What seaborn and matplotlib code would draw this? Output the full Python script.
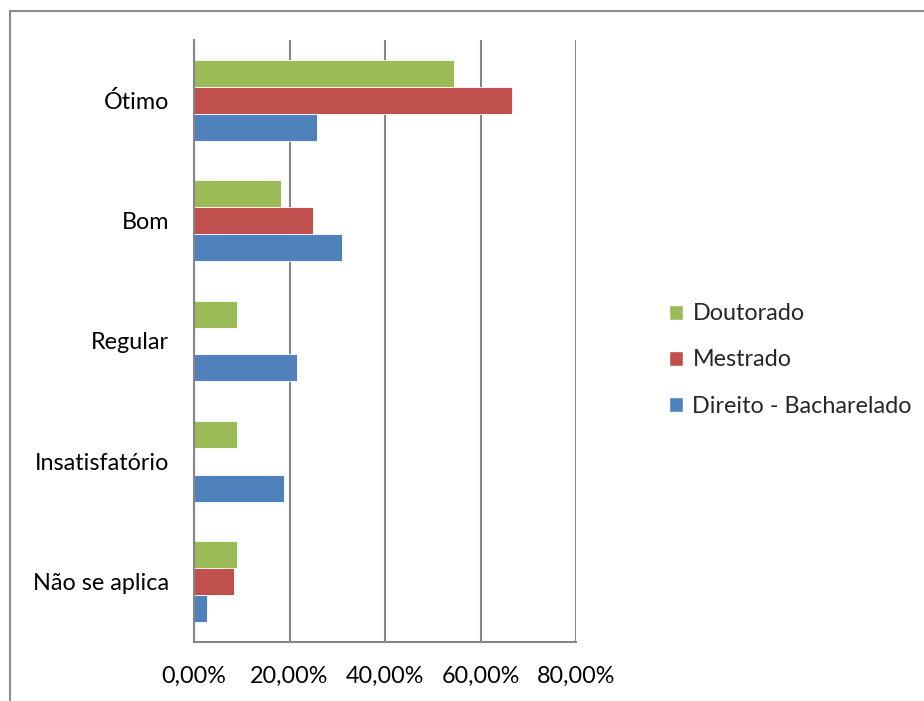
import matplotlib
matplotlib.use("Agg")
import matplotlib.pyplot as plt
import matplotlib.patches as mpatches
from matplotlib.lines import Line2D
from matplotlib.ticker import FuncFormatter
import seaborn as sns
import pandas as pd

categories = ["Ótimo", "Bom", "Regular", "Insatisfatório", "Não se aplica"]
series_names = ["Doutorado", "Mestrado", "Direito - Bacharelado"]
doutorado = [54.55, 18.18, 9.09, 9.09, 9.09]
mestrado = [66.67, 25.00, 0.0, 0.0, 8.33]
direito = [25.68, 31.08, 21.62, 18.92, 2.70]
colors = ["#9BBB59", "#C0504D", "#4F81BD"]
x_ticks = [0, 20, 40, 60, 80]

rows = []
for name, vals in zip(series_names, [doutorado, mestrado, direito]):
    for c, v in zip(categories, vals):
        rows.append({"cat": c, "serie": name, "val": v})
df = pd.DataFrame(rows)

sns.set_style("white")
plt.rcParams["font.family"] = ["Lato", "DejaVu Sans"]
FS = 16.8

fig = plt.figure(figsize=(9.24, 7.01), dpi=100)
ax = fig.add_axes([194 / 924, 1 - 642 / 701, (576 - 194) / 924, (642 - 40) / 701])

sns.barplot(data=df, y="cat", x="val", hue="serie", order=categories,
            hue_order=series_names, palette=colors, orient="h",
            width=0.67, gap=0, saturation=1, ax=ax, legend=False,
            edgecolor="white", linewidth=0.6)

ax.set_xlim(0, 80)
ax.set_xticks(x_ticks)
ax.xaxis.set_major_formatter(FuncFormatter(lambda v, p: f"{v:.2f}%".replace(".", ",")))
ax.set_xlabel("")
ax.set_ylabel("")
ax.grid(axis="x", color="#868686", linewidth=1.5)
ax.set_axisbelow(True)
for s in ["top", "right"]:
    ax.spines[s].set_visible(False)
for s in ["left", "bottom"]:
    ax.spines[s].set_color("#868686")
    ax.spines[s].set_linewidth(1.5)
ax.tick_params(axis="both", length=0, labelsize=FS, colors="black")
ax.tick_params(axis="x", pad=17)
ax.tick_params(axis="y", pad=18)

handles = [mpatches.Patch(facecolor=c, label=n) for c, n in zip(colors, series_names)]
fig.legend(handles=handles, loc="center left", bbox_to_anchor=(657 / 924, 1 - 360 / 701),
           frameon=False, fontsize=FS, handlelength=0.62, handleheight=0.62,
           handletextpad=0.4, labelspacing=1.08, borderpad=0)

fig.add_artist(Line2D([9.5 / 924, 9.5 / 924], [0, 1 - 10.5 / 701], transform=fig.transFigure,
                      color="#8c8c8c", linewidth=1.5))
fig.add_artist(Line2D([9.5 / 924, 1], [1 - 10.5 / 701, 1 - 10.5 / 701], transform=fig.transFigure,
                      color="#8c8c8c", linewidth=1.5))

fig.savefig("out.png", dpi=100)
